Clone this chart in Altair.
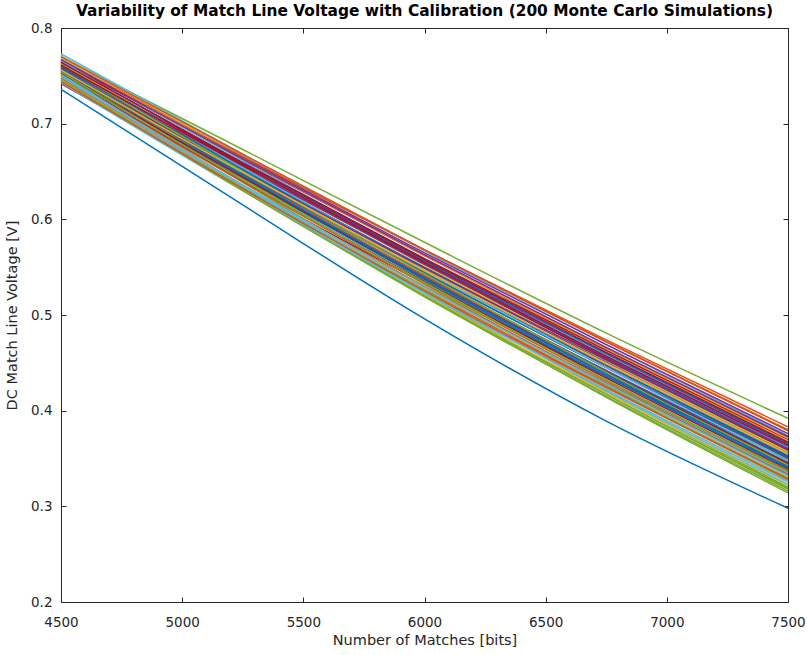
import altair as alt
import pandas as pd

# x positions (bits) at which each simulated curve was read off the picture
matches = [4500, 5250, 6000, 6750, 7500]

# Voltage of each of the drawn curves at the x positions above (V)
v4500 = [0.736, 0.768, 0.757, 0.760, 0.770, 0.746, 0.742, 0.762, 0.754, 0.771,
         0.752, 0.748, 0.773, 0.758, 0.756, 0.765, 0.750, 0.763, 0.753, 0.744,
         0.766, 0.759, 0.749, 0.761, 0.755, 0.757, 0.769, 0.751, 0.764, 0.758,
         0.745, 0.767, 0.752, 0.760, 0.762, 0.754, 0.770, 0.747, 0.756, 0.760,
         0.743, 0.765, 0.757, 0.750, 0.763, 0.759, 0.746, 0.766, 0.753, 0.761,
         0.748, 0.768, 0.755, 0.762, 0.751, 0.764, 0.758, 0.744, 0.756, 0.767,
         0.754, 0.749, 0.761]
v5250 = [0.615, 0.666, 0.645, 0.653, 0.673, 0.634, 0.635, 0.656, 0.641, 0.665,
         0.644, 0.631, 0.668, 0.650, 0.646, 0.665, 0.635, 0.658, 0.635, 0.634,
         0.662, 0.652, 0.635, 0.651, 0.644, 0.639, 0.661, 0.640, 0.659, 0.647,
         0.630, 0.664, 0.633, 0.652, 0.659, 0.643, 0.668, 0.635, 0.648, 0.643,
         0.630, 0.657, 0.648, 0.639, 0.655, 0.654, 0.630, 0.654, 0.644, 0.652,
         0.636, 0.663, 0.650, 0.650, 0.635, 0.659, 0.646, 0.632, 0.649, 0.663,
         0.641, 0.636, 0.656]
v6000 = [0.496, 0.568, 0.537, 0.549, 0.576, 0.527, 0.533, 0.553, 0.533, 0.562,
         0.541, 0.519, 0.567, 0.546, 0.541, 0.568, 0.526, 0.556, 0.523, 0.529,
         0.562, 0.550, 0.527, 0.546, 0.538, 0.526, 0.558, 0.535, 0.557, 0.541,
         0.521, 0.565, 0.520, 0.548, 0.559, 0.537, 0.568, 0.528, 0.544, 0.532,
         0.523, 0.554, 0.544, 0.533, 0.552, 0.553, 0.520, 0.547, 0.539, 0.548,
         0.530, 0.562, 0.549, 0.543, 0.525, 0.558, 0.539, 0.525, 0.547, 0.563,
         0.534, 0.529, 0.555]
v6750 = [0.389, 0.472, 0.435, 0.451, 0.481, 0.426, 0.436, 0.455, 0.431, 0.463,
         0.442, 0.415, 0.469, 0.447, 0.441, 0.474, 0.422, 0.459, 0.417, 0.429,
         0.465, 0.452, 0.425, 0.445, 0.438, 0.420, 0.458, 0.434, 0.460, 0.440,
         0.419, 0.469, 0.414, 0.449, 0.463, 0.436, 0.472, 0.427, 0.445, 0.427,
         0.422, 0.454, 0.445, 0.432, 0.452, 0.456, 0.417, 0.445, 0.440, 0.448,
         0.429, 0.465, 0.453, 0.440, 0.421, 0.461, 0.438, 0.424, 0.449, 0.466,
         0.432, 0.428, 0.457]
v7500 = [0.298, 0.380, 0.338, 0.356, 0.392, 0.330, 0.344, 0.361, 0.334, 0.368,
         0.348, 0.316, 0.374, 0.352, 0.346, 0.383, 0.325, 0.365, 0.318, 0.335,
         0.372, 0.358, 0.328, 0.349, 0.342, 0.320, 0.362, 0.339, 0.366, 0.344,
         0.322, 0.376, 0.314, 0.354, 0.370, 0.340, 0.379, 0.331, 0.351, 0.327,
         0.326, 0.359, 0.350, 0.337, 0.357, 0.363, 0.319, 0.347, 0.345, 0.353,
         0.333, 0.371, 0.360, 0.343, 0.323, 0.367, 0.341, 0.329, 0.355, 0.373,
         0.336, 0.332, 0.364]

x_ticks = [4500, 5000, 5500, 6000, 6500, 7000, 7500]
y_ticks = [0.2, 0.3, 0.4, 0.5, 0.6, 0.7, 0.8]

title_text = "Variability of Match Line Voltage with Calibration (200 Monte Carlo Simulations)"

palette = ["#0072BD", "#D95319", "#EDB120", "#7E2F8E", "#77AC30", "#4DBEEE", "#A2142F"]

columns = [v4500, v5250, v6000, v6750, v7500]
n_runs = len(v4500)
rows = []
for i in range(n_runs):
    for j, xv in enumerate(matches):
        rows.append({"run": i, "matches": xv, "voltage": columns[j][i]})
df = pd.DataFrame(rows)

FONT = "DejaVu Sans"
AX = "#262626"

xscale = alt.Scale(domain=[4500, 7500], nice=False, zero=False)
yscale = alt.Scale(domain=[0.2, 0.8], nice=False, zero=False)

color_scale = alt.Scale(domain=list(range(n_runs)),
                        range=[palette[i % 7] for i in range(n_runs)])

lines = alt.Chart(df).mark_line(strokeWidth=1.5, interpolate="monotone").encode(
    x=alt.X("matches:Q", scale=xscale,
            axis=alt.Axis(orient="bottom", values=x_ticks, format="d", offset=-5,
                          tickSize=5, domain=False, grid=False, labelPadding=13,
                          labelFlush=False, title="Number of Matches [bits]",
                          titlePadding=5)),
    y=alt.Y("voltage:Q", scale=yscale,
            axis=alt.Axis(orient="left", values=y_ticks, format=".1f", offset=-5,
                          tickSize=5, domain=False, grid=False, labelPadding=9,
                          labelFlush=False, title="DC Match Line Voltage [V]",
                          titlePadding=11)),
    color=alt.Color("run:N", scale=color_scale, legend=None),
    order=alt.Order("matches:Q"),
)

mirror = alt.Chart(df).mark_line(strokeOpacity=0).encode(
    x=alt.X("matches:Q", scale=xscale,
            axis=alt.Axis(orient="top", values=x_ticks, labels=False, offset=-5,
                          tickSize=5, domain=False, grid=False, title=None)),
    y=alt.Y("voltage:Q", scale=yscale,
            axis=alt.Axis(orient="right", values=y_ticks, labels=False, offset=-5,
                          tickSize=5, domain=False, grid=False, title=None)),
    detail="run:N",
)

title_mark = alt.Chart(pd.DataFrame({"t": [title_text]})).mark_text(
    font=FONT, fontSize=15.4, fontWeight="bold", color="#000000",
    align="center", baseline="alphabetic",
).encode(
    text="t:N",
    x=alt.value(363.5),
    y=alt.value(-12),
)

chart = alt.layer(lines, mirror, title_mark).resolve_axis(
    x="independent", y="independent"
).properties(
    width=727,
    height=574,
    autosize=alt.AutoSizeParams(type="none"),
    padding={"left": 61, "top": 28, "right": 19, "bottom": 53},
).configure_view(
    stroke=AX, strokeWidth=1
).configure_axis(
    labelFont=FONT, titleFont=FONT, labelFontSize=13.5, titleFontSize=14.5,
    labelColor=AX, titleColor=AX, tickColor=AX, titleFontWeight="normal",
    tickWidth=1,
)

chart.save("out.html", embed_options={"renderer": "svg", "actions": False})
